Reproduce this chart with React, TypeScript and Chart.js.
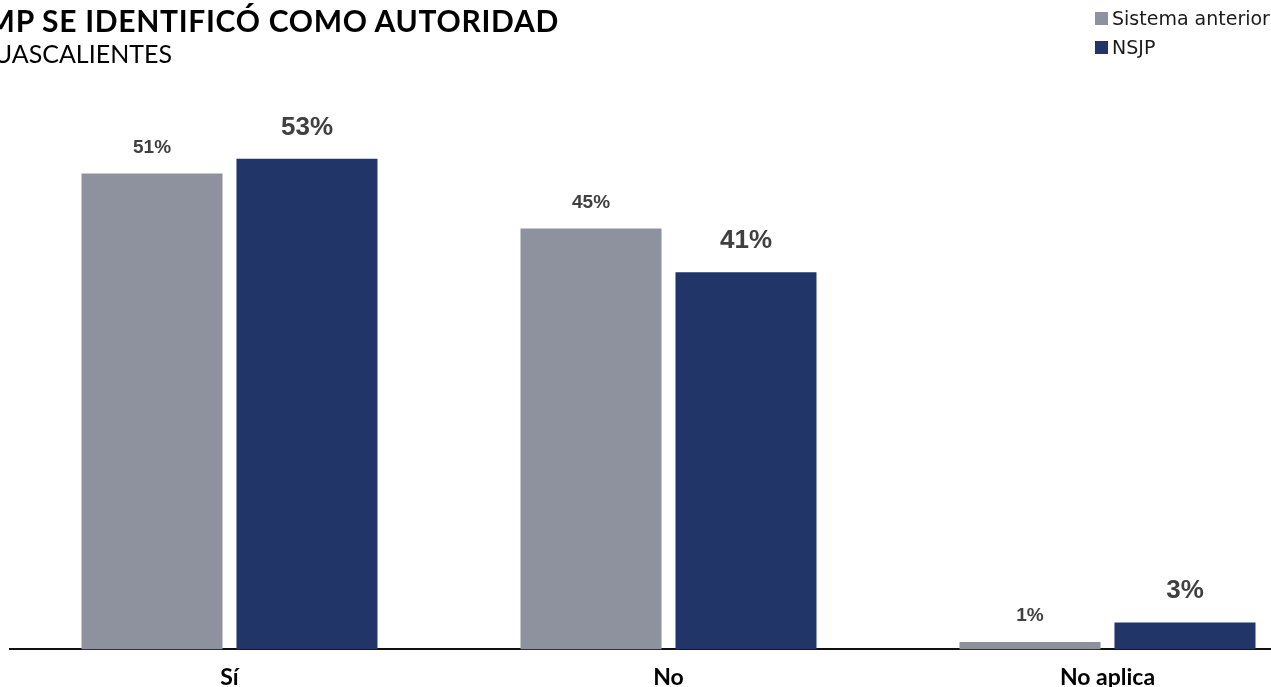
import React, { useEffect, useRef } from "react";
import { Chart, registerables } from "chart.js";

Chart.register(...registerables);

const categories = ["Sí", "No", "No aplica"];
const seriesNames = ["Sistema anterior", "NSJP"];
const anteriorValues = [51.1, 45.2, 0.8];
const nsjpValues = [52.7, 40.5, 2.9];
const seriesColors = ["#8e919e", "#213569"];
const labelSizes = [19, 26];
const labelOffsets = [21, 24];

const titleText = "EL MP SE IDENTIFICÓ COMO AUTORIDAD";
const subtitleText = "AGUASCALIENTES";

const valueLabels = {
  id: "valueLabels",
  afterDatasetsDraw(chart: any) {
    const ctx = chart.ctx;
    chart.data.datasets.forEach((ds: any, di: number) => {
      const meta = chart.getDatasetMeta(di);
      meta.data.forEach((bar: any, i: number) => {
        const v = ds.data[i];
        ctx.save();
        ctx.font = `bold ${labelSizes[di]}px "Liberation Sans", Arial, sans-serif`;
        ctx.fillStyle = "#404040";
        ctx.textAlign = "center";
        ctx.textBaseline = "alphabetic";
        ctx.fillText(`${Math.round(v)}%`, bar.x, bar.y - labelOffsets[di]);
        ctx.restore();
      });
    });
  },
};

export default function App() {
  const ref = useRef<HTMLCanvasElement | null>(null);

  useEffect(() => {
    if (!ref.current) return;
    const chart = new Chart(ref.current, {
      type: "bar",
      data: {
        labels: categories,
        datasets: [
          {
            label: seriesNames[0],
            data: anteriorValues,
            backgroundColor: seriesColors[0],
            categoryPercentage: 0.706,
            barPercentage: 0.91,
          },
          {
            label: seriesNames[1],
            data: nsjpValues,
            backgroundColor: seriesColors[1],
            categoryPercentage: 0.706,
            barPercentage: 0.91,
          },
        ],
      },
      options: {
        responsive: false,
        animation: false,
        layout: { padding: { left: 10, right: 0, top: 100, bottom: 0 } },
        plugins: {
          legend: { display: false },
          tooltip: { enabled: false },
          title: { display: false },
        },
        scales: {
          y: { display: false, min: 0, max: 59 },
          x: {
            grid: { display: false, drawTicks: false },
            border: { display: true, color: "#111111", width: 2 },
            ticks: {
              color: "#000000",
              padding: 14,
              font: { family: "Lato", size: 23, weight: "bold" },
            },
          },
        },
      },
      plugins: [valueLabels],
    });
    return () => chart.destroy();
  }, []);

  return (
    <div
      style={{
        position: "fixed",
        left: 0,
        top: 0,
        width: 1271,
        height: 687,
        overflow: "hidden",
        background: "#ffffff",
      }}
    >
      <canvas
        ref={ref}
        width={1327}
        height={705}
        style={{ position: "absolute", left: 0, top: 0, width: 1327, height: 705 }}
      />
      <div
        style={{
          position: "absolute",
          right: 1271 - 559,
          top: 2,
          whiteSpace: "nowrap",
          fontFamily: "Lato",
          fontWeight: "bold",
          fontSize: 30,
          letterSpacing: "0.7px",
          color: "#000",
          lineHeight: "36px",
        }}
      >
        {titleText}
      </div>
      <div
        style={{
          position: "absolute",
          right: 1271 - 172,
          top: 38,
          whiteSpace: "nowrap",
          fontFamily: "Lato",
          fontSize: 25,
          color: "#000",
          lineHeight: "30px",
        }}
      >
        {subtitleText}
      </div>
      <div
        style={{
          position: "absolute",
          left: 1095,
          top: 4,
          fontFamily: "'DejaVu Sans'",
          fontSize: 19,
          color: "#1a1a1a",
          lineHeight: "29px",
        }}
      >
        {seriesNames.map((n, i) => (
          <div key={n} style={{ display: "flex", alignItems: "center", whiteSpace: "nowrap" }}>
            <span
              style={{
                display: "inline-block",
                width: 13,
                height: 13,
                background: seriesColors[i],
                marginRight: 4,
              }}
            />
            <span>{n}</span>
          </div>
        ))}
      </div>
    </div>
  );
}
